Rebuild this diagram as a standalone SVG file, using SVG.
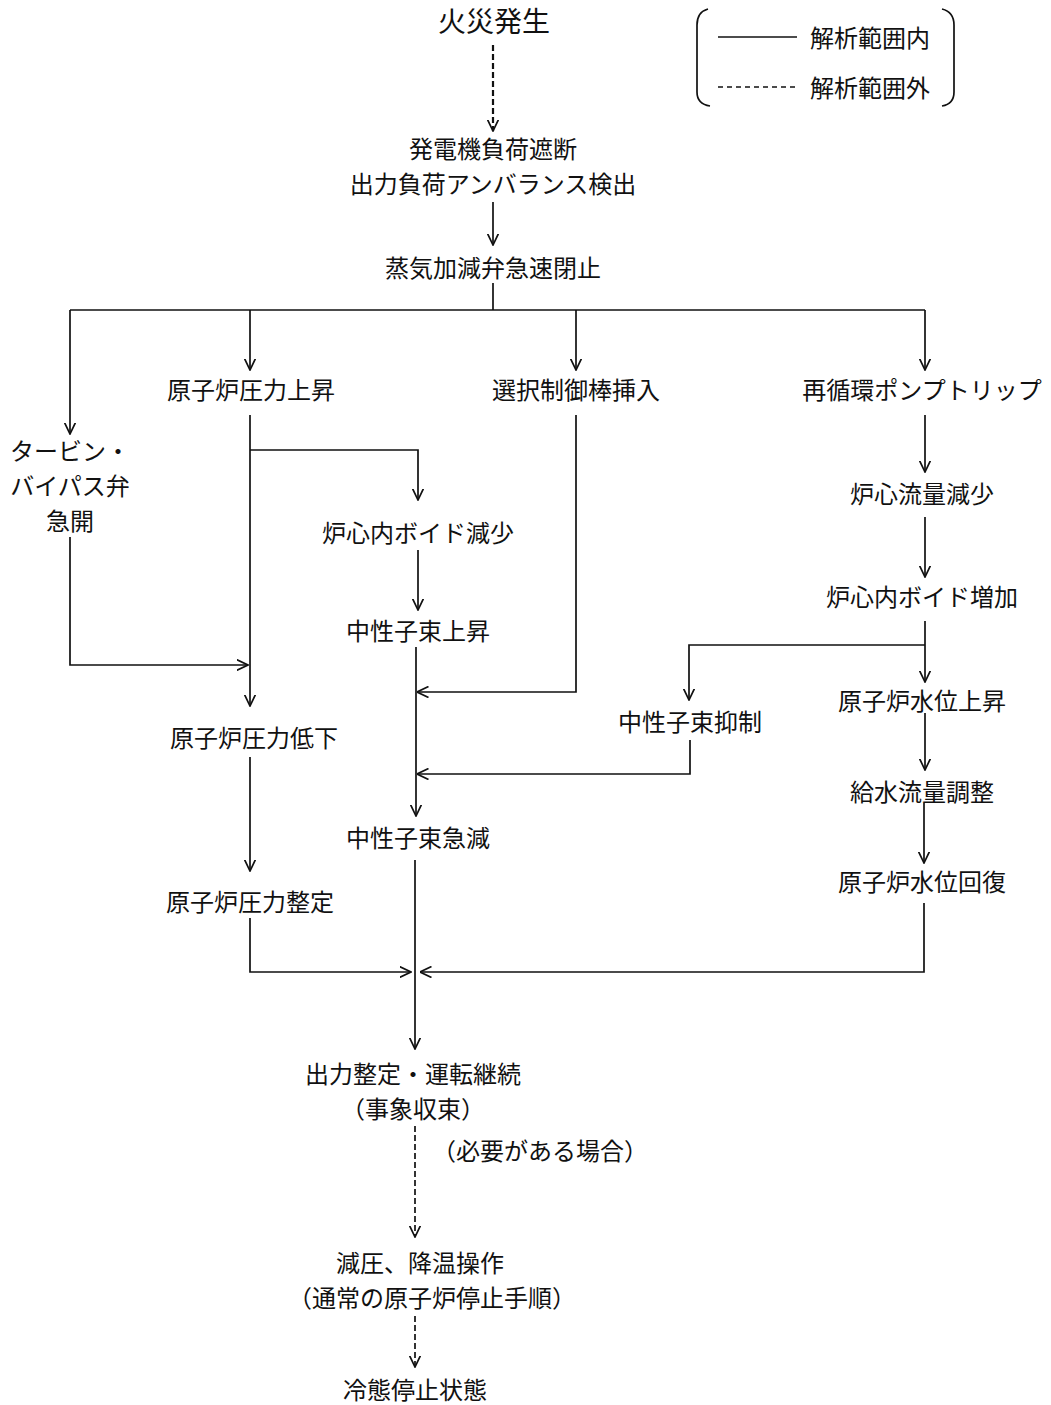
<svg xmlns="http://www.w3.org/2000/svg" width="1051" height="1405" viewBox="0 0 1051 1405">
<style>
text{font-family:"Noto Sans CJK JP","Noto Sans CJK SC",sans-serif;font-size:24px;fill:#111;text-anchor:middle;dominant-baseline:central}
.t{font-size:28px}
.l{text-anchor:start}
.c{fill:none;stroke:#111;stroke-width:1.7}
.d{stroke-dasharray:6,3}
.a{marker-end:url(#ah)}
</style>
<defs>
<marker id="ah" viewBox="0 0 12 12" refX="11.5" refY="6" markerWidth="12" markerHeight="12" markerUnits="userSpaceOnUse" orient="auto">
<path d="M0,0.5 L11.5,6 L0,11.5" fill="none" stroke="#111" stroke-width="1.7"/>
</marker>
</defs>
<rect width="1051" height="1405" fill="#fff"/>
<g id="legend">
<path class="c" d="M708,9 Q697,12 697,25 L697,92 Q697,104 710,106"/>
<path class="c" d="M942,9 Q954,12 954,25 L954,92 Q954,104 942,106"/>
<line class="c" x1="718" y1="37" x2="797" y2="37"/>
<line class="c d" x1="718" y1="87" x2="797" y2="87" style="stroke-dasharray:5,4"/>
<text class="l" x="810" y="36">解析範囲内</text>
<text class="l" x="810" y="86">解析範囲外</text>
</g>
<g id="connectors">
<line class="c d a" x1="493" y1="45" x2="493" y2="131" style="stroke-width:2.2"/>
<line class="c a" x1="493" y1="202" x2="493" y2="245"/>
<line class="c" x1="493" y1="283" x2="493" y2="310"/>
<line class="c" x1="70" y1="310" x2="925" y2="310"/>
<line class="c a" x1="70" y1="310" x2="70" y2="434"/>
<line class="c a" x1="250" y1="310" x2="250" y2="370"/>
<line class="c a" x1="576" y1="310" x2="576" y2="370"/>
<line class="c a" x1="925" y1="310" x2="925" y2="370"/>
<line class="c a" x1="250" y1="415" x2="250" y2="706"/>
<polyline class="c a" points="250,450 418,450 418,500"/>
<line class="c a" x1="418" y1="550" x2="418" y2="610"/>
<line class="c a" x1="416" y1="647" x2="416" y2="816"/>
<polyline class="c a" points="576,415 576,692 417,692"/>
<polyline class="c a" points="70,537 70,665 248,665"/>
<line class="c a" x1="925" y1="415" x2="925" y2="472"/>
<line class="c a" x1="925" y1="517" x2="925" y2="577"/>
<line class="c a" x1="925" y1="621" x2="925" y2="682"/>
<polyline class="c a" points="925,645 689,645 689,700"/>
<polyline class="c a" points="690,740 690,774 417,774"/>
<line class="c a" x1="925" y1="713" x2="925" y2="770"/>
<line class="c a" x1="924" y1="803" x2="924" y2="863"/>
<polyline class="c a" points="924,903 924,972 420,972"/>
<line class="c a" x1="250" y1="757" x2="250" y2="871"/>
<polyline class="c a" points="250,918 250,972 411,972"/>
<line class="c a" x1="415" y1="860" x2="415" y2="1049"/>
<line class="c d a" x1="415" y1="1126" x2="415" y2="1237"/>
<line class="c d a" x1="415" y1="1316" x2="415" y2="1367"/>
</g>
<g id="n_fire"><text class="t" x="494" y="20">火災発生</text></g>
<g id="n_gen"><text x="493" y="147"><tspan x="493">発電機負荷遮断</tspan><tspan x="493" dy="35">出力負荷アンバランス検出</tspan></text></g>
<g id="n_valve"><text x="493" y="266">蒸気加減弁急速閉止</text></g>
<g id="n_bypass"><text x="70" y="449"><tspan x="70">タービン・</tspan><tspan x="70" dy="35">バイパス弁</tspan><tspan x="70" dy="35">急開</tspan></text></g>
<g id="n_prup"><text x="251" y="388">原子炉圧力上昇</text></g>
<g id="n_rod"><text x="576" y="388">選択制御棒挿入</text></g>
<g id="n_pump"><text x="922" y="388">再循環ポンプトリップ</text></g>
<g id="n_voiddown"><text x="418" y="531">炉心内ボイド減少</text></g>
<g id="n_nup"><text x="418" y="629">中性子束上昇</text></g>
<g id="n_flow"><text x="922" y="492">炉心流量減少</text></g>
<g id="n_voidup"><text x="922" y="595">炉心内ボイド増加</text></g>
<g id="n_nsup"><text x="690" y="720">中性子束抑制</text></g>
<g id="n_wlup"><text x="922" y="699">原子炉水位上昇</text></g>
<g id="n_feed"><text x="922" y="790">給水流量調整</text></g>
<g id="n_wlrec"><text x="922" y="880">原子炉水位回復</text></g>
<g id="n_prdown"><text x="254" y="736">原子炉圧力低下</text></g>
<g id="n_prset"><text x="250" y="900">原子炉圧力整定</text></g>
<g id="n_ndown"><text x="418" y="836">中性子束急減</text></g>
<g id="n_cont"><text x="413" y="1072"><tspan x="413">出力整定・運転継続</tspan><tspan x="413" dy="35">（事象収束）</tspan></text></g>
<g id="n_need"><text x="540" y="1149">（必要がある場合）</text></g>
<g id="n_depress"><text x="420" y="1261"><tspan x="420">減圧、降温操作</tspan><tspan x="432" dy="35">（通常の原子炉停止手順）</tspan></text></g>
<g id="n_cold"><text x="415" y="1388">冷態停止状態</text></g>
</svg>
